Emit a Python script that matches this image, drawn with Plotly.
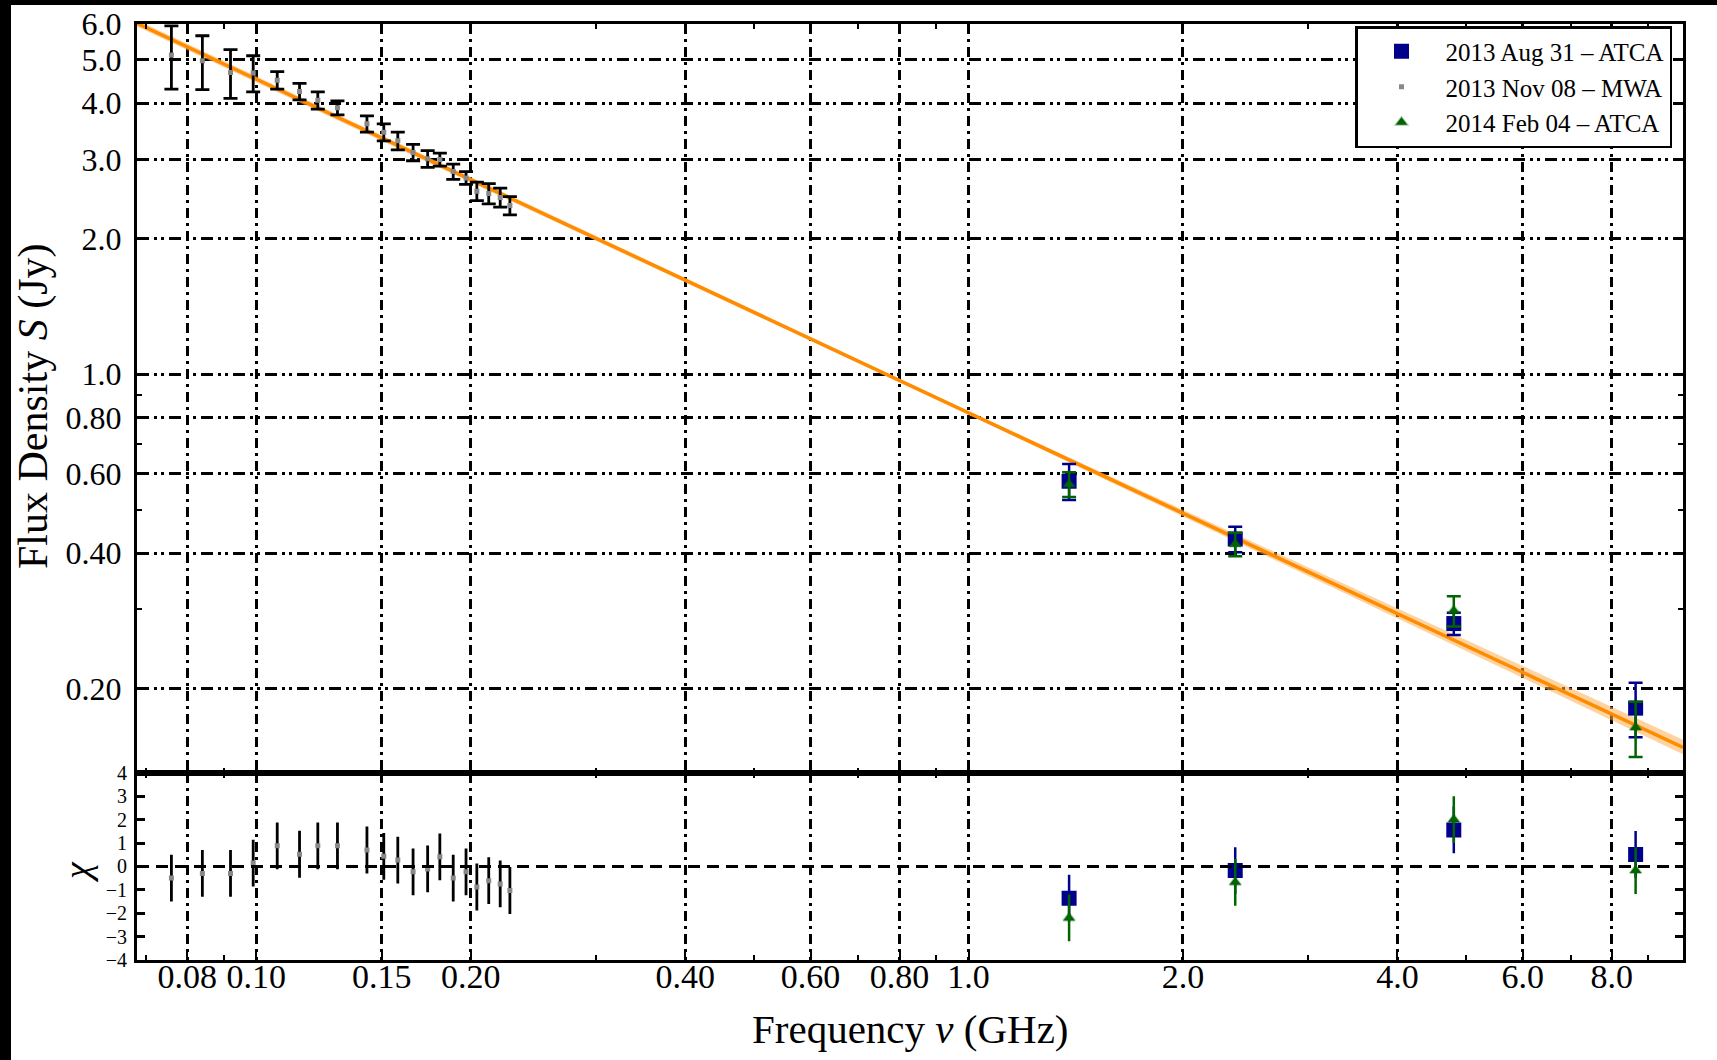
import math
import plotly.graph_objects as go

# ---------------- data ----------------
# MWA 2013 Nov 08 (GHz, Jy)
mwa_freq = [0.076, 0.084, 0.092, 0.099, 0.107, 0.115, 0.122, 0.130, 0.143, 0.151,
            0.158, 0.166, 0.174, 0.181, 0.189, 0.197, 0.204, 0.212, 0.220, 0.227]
mwa_flux = [5.12, 4.97, 4.68, 4.67, 4.50, 4.25, 4.06, 3.91, 3.60, 3.45,
            3.30, 3.11, 3.01, 3.00, 2.82, 2.73, 2.55, 2.52, 2.47, 2.37]
mwa_err = [0.82, 0.68, 0.58, 0.43, 0.20, 0.18, 0.18, 0.14, 0.15, 0.15,
           0.15, 0.13, 0.13, 0.10, 0.11, 0.09, 0.12, 0.13, 0.12, 0.11]
mwa_chi = [-0.50, -0.30, -0.30, 0.14, 0.88, 0.52, 0.88, 0.88, 0.70, 0.43,
           0.27, -0.23, -0.11, 0.41, -0.50, -0.23, -0.88, -0.61, -0.75, -1.03]
mwa_chi_err = [1.0] * 20

# ATCA
atca_freq = [1.384, 2.368, 4.800, 8.640]
aug_flux = [0.578, 0.430, 0.279, 0.181]
aug_err = [0.053, 0.028, 0.016, 0.025]
aug_chi = [-1.36, -0.18, 1.56, 0.51]
feb_flux = [0.569, 0.419, 0.298, 0.164]
feb_err = [0.036, 0.025, 0.023, 0.023]
feb_chi = [-2.20, -0.68, 2.00, -0.18]
atca_chi_err = [1.0, 1.0, 1.0, 1.0]

# power-law fit and its uncertainty band
fit_freq = [0.068, 10.07]
fit_flux = [6.02, 0.148]
band_freq = [0.068, 1.0, 10.07]
band_lo = [5.92, 0.813, 0.143]
band_hi = [6.12, 0.827, 0.154]

# tick labels
x_ticks = [0.08, 0.10, 0.15, 0.20, 0.40, 0.60, 0.80, 1.0, 2.0, 4.0, 6.0, 8.0]
x_ticktext = ["0.08", "0.10", "0.15", "0.20", "0.40", "0.60", "0.80", "1.0", "2.0", "4.0", "6.0", "8.0"]
x_minor = [0.07, 0.09, 0.3, 0.5, 0.7, 0.9, 3.0, 5.0, 7.0, 9.0]
y_ticks = [0.20, 0.40, 0.60, 0.80, 1.0, 2.0, 3.0, 4.0, 5.0, 6.0]
y_ticktext = ["0.20", "0.40", "0.60", "0.80", "1.0", "2.0", "3.0", "4.0", "5.0", "6.0"]
y_minor = [0.3, 0.5, 0.7, 0.9]
chi_ticks = [-4, -3, -2, -1, 0, 1, 2, 3, 4]
chi_ticktext = ["\u22124", "\u22123", "\u22122", "\u22121", "0", "1", "2", "3", "4"]

# ---------------- style ----------------
FONT = "Liberation Serif"
BLUE = "#00008B"
GREEN = "#006400"
ORANGE = "#FF8C00"
W, H = 1717, 1060
L, R, T, B = 137, 34, 24, 100
PW, PH = W - L - R, H - T - B


def px_x(px):
    return (px - L) / PW


def px_y(py):
    return (H - B - py) / PH


fig = go.Figure()

# fit band + line (top panel)
fig.add_trace(go.Scatter(x=band_freq, y=band_hi, mode="lines", line=dict(width=0),
                         showlegend=False, hoverinfo="skip", xaxis="x", yaxis="y"))
fig.add_trace(go.Scatter(x=band_freq, y=band_lo, mode="lines", line=dict(width=0),
                         fill="tonexty", fillcolor="rgba(255,175,80,0.55)",
                         showlegend=False, hoverinfo="skip", xaxis="x", yaxis="y"))
fig.add_trace(go.Scatter(x=fit_freq, y=fit_flux, mode="lines",
                         line=dict(color=ORANGE, width=3.5),
                         showlegend=False, hoverinfo="skip", xaxis="x", yaxis="y"))

# ATCA Aug
fig.add_trace(go.Scatter(x=atca_freq, y=aug_flux, mode="markers", name="2013 Aug 31 \u2013 ATCA",
                         marker=dict(symbol="square", size=15, color=BLUE),
                         error_y=dict(type="data", array=aug_err, color=BLUE, thickness=2.5, width=7),
                         xaxis="x", yaxis="y"))
# MWA
fig.add_trace(go.Scatter(x=mwa_freq, y=mwa_flux, mode="markers", name="2013 Nov 08 \u2013 MWA",
                         marker=dict(symbol="square", size=5, color="#888888"),
                         error_y=dict(type="data", array=mwa_err, color="black", thickness=2.8, width=7),
                         xaxis="x", yaxis="y"))
# ATCA Feb
fig.add_trace(go.Scatter(x=atca_freq, y=feb_flux, mode="markers", name="2014 Feb 04 \u2013 ATCA",
                         marker=dict(symbol="triangle-up", size=10, color=GREEN,
                                     line=dict(color="rgba(0,100,0,0.35)", width=2)),
                         error_y=dict(type="data", array=feb_err, color=GREEN, thickness=2.5, width=7),
                         xaxis="x", yaxis="y"))

# residuals (bottom panel)
fig.add_trace(go.Scatter(x=mwa_freq, y=mwa_chi, mode="markers", showlegend=False,
                         marker=dict(symbol="square", size=5, color="#888888"),
                         error_y=dict(type="data", array=mwa_chi_err, color="black", thickness=2.8, width=0),
                         xaxis="x2", yaxis="y2"))
fig.add_trace(go.Scatter(x=atca_freq, y=aug_chi, mode="markers", showlegend=False,
                         marker=dict(symbol="square", size=15, color=BLUE),
                         error_y=dict(type="data", array=atca_chi_err, color=BLUE, thickness=2.5, width=0),
                         xaxis="x2", yaxis="y2"))
fig.add_trace(go.Scatter(x=atca_freq, y=feb_chi, mode="markers", showlegend=False,
                         marker=dict(symbol="triangle-up", size=10, color=GREEN,
                                     line=dict(color="rgba(0,100,0,0.35)", width=2)),
                         error_y=dict(type="data", array=atca_chi_err, color=GREEN, thickness=2.5, width=0),
                         xaxis="x2", yaxis="y2"))

GRID_V = "10px,5px,3px,5px"
GRID_H = "12px,5px,3px,4px,3px,5px"
xrange_ = [math.log10(0.068), math.log10(10.07)]

xcommon = dict(type="log", range=xrange_, tickmode="array", tickvals=x_ticks, ticktext=x_ticktext,
               showline=True, linecolor="black", linewidth=3, mirror="allticks",
               ticks="inside", ticklen=8, tickwidth=2, tickcolor="black", automargin=False,
               showgrid=True, gridcolor="black", gridwidth=2.6, griddash=GRID_V, zeroline=False,
               minor=dict(tickvals=x_minor, ticks="inside", ticklen=5, tickwidth=2,
                          tickcolor="black", showgrid=False))

fig.update_layout(
    width=W, height=H,
    margin=dict(l=L, r=R, t=T, b=B, autoexpand=False),
    paper_bgcolor="white", plot_bgcolor="white",
    font=dict(family=FONT, color="black"),
    xaxis=dict(**xcommon, domain=[0, 1], anchor="y", showticklabels=False),
    xaxis2=dict(**xcommon, domain=[0, 1], anchor="y2", matches="x",
                tickfont=dict(family=FONT, size=34, color="black"), ticklabelstandoff=-16),
    yaxis=dict(type="log", domain=[0.2, 1], anchor="x",
               range=[math.log10(0.13), math.log10(6.0)],
               tickmode="array", tickvals=y_ticks, ticktext=y_ticktext,
               tickfont=dict(family=FONT, size=32, color="black"),
               showline=True, linecolor="black", linewidth=3, mirror="allticks",
               ticks="inside", ticklen=8, tickwidth=2, tickcolor="black", automargin=False,
               showgrid=True, gridcolor="black", gridwidth=2.6, griddash=GRID_H, zeroline=False,
               ticklabelstandoff=6,
               minor=dict(tickvals=y_minor, ticks="inside", ticklen=5, tickwidth=2,
                          tickcolor="black", showgrid=False)),
    yaxis2=dict(domain=[0, 0.2], anchor="x2", range=[-4, 4],
                tickmode="array", tickvals=chi_ticks, ticktext=chi_ticktext,
                tickfont=dict(family=FONT, size=20, color="black"),
                showline=True, linecolor="black", linewidth=3, mirror="allticks",
                ticks="inside", ticklen=8, tickwidth=2.5, tickcolor="black", automargin=False,
                showgrid=False, zeroline=False, ticklabelstandoff=3),
    legend=dict(x=px_x(1672), xanchor="right", y=px_y(26), yanchor="top", traceorder="normal",
                bgcolor="white", bordercolor="black", borderwidth=2.5,
                font=dict(family=FONT, size=25, color="black"),
                itemwidth=78, tracegroupgap=0),
    showlegend=True,
)

# dashed zero line in residual panel
fig.add_shape(type="line", xref="paper", yref="y2", x0=0, x1=1, y0=0, y1=0,
              line=dict(color="black", width=3, dash="12px,7px"), layer="above")

# dark starry border of the screenshot
fig.add_shape(type="rect", xref="paper", yref="paper", x0=px_x(-5), x1=px_x(11),
              y0=px_y(H + 5), y1=px_y(-5), fillcolor="black", line=dict(width=0), layer="above")
fig.add_shape(type="rect", xref="paper", yref="paper", x0=px_x(-5), x1=px_x(W + 5),
              y0=px_y(5), y1=px_y(-5), fillcolor="black", line=dict(width=0), layer="above")

# axis titles
fig.add_annotation(text="Flux Density <i>S</i> (Jy)", xref="paper", yref="paper",
                   x=px_x(33), y=px_y(406), xanchor="center", yanchor="middle",
                   textangle=-90, showarrow=False,
                   font=dict(family=FONT, size=42, color="black"))
fig.add_annotation(text="<i>\u03c7</i>", xref="paper", yref="paper",
                   x=px_x(77), y=px_y(872), xanchor="center", yanchor="middle",
                   textangle=-90, showarrow=False,
                   font=dict(family=FONT, size=38, color="black"))
fig.add_annotation(text="Frequency <i>\u03bd</i> (GHz)", xref="paper", yref="paper",
                   x=px_x(910), y=px_y(1029), xanchor="center", yanchor="middle",
                   showarrow=False,
                   font=dict(family=FONT, size=41, color="black"))

fig.write_html("out.html", config={"displayModeBar": False},
               post_script="document.body.style.margin='0px';")
